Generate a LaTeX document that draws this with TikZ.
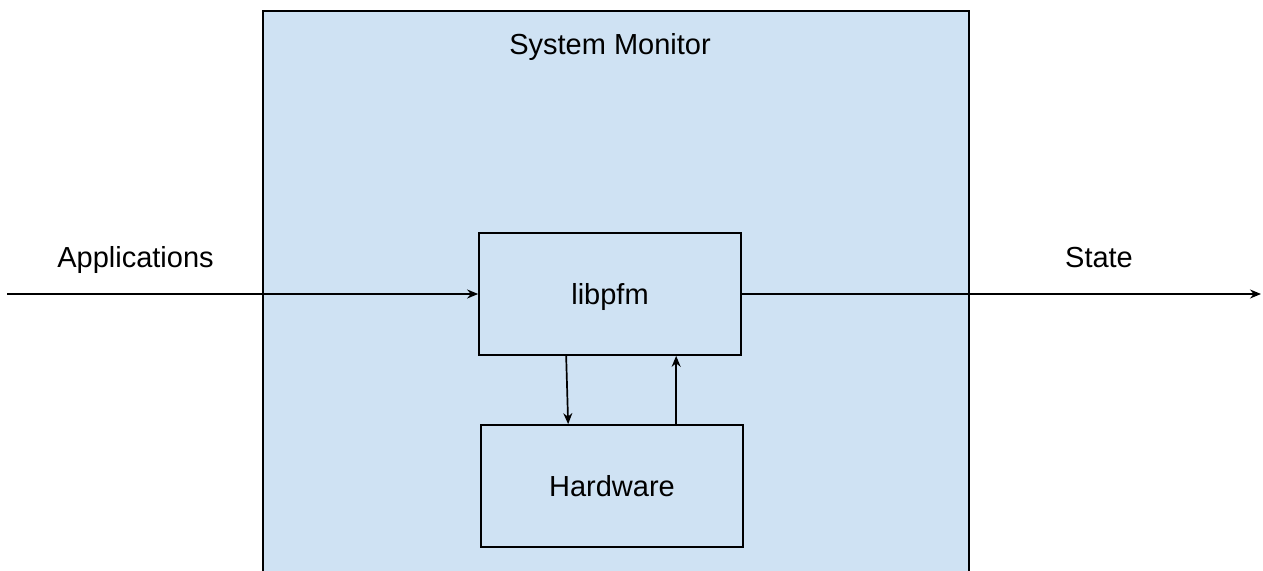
\documentclass[tikz,border=0pt]{standalone}
\usepackage{fontspec}
\setmainfont{Liberation Sans}
\usetikzlibrary{arrows.meta,positioning,calc}

\definecolor{monitorblue}{HTML}{CFE2F3}

\begin{document}
\begin{tikzpicture}[x=0.5pt,y=-0.5pt,>={Stealth[length=5.5pt,width=4.5pt]},
    line width=0.85pt,
    every node/.style={font=\fontsize{14.5}{17}\selectfont},
    block/.style={draw,fill=monitorblue,minimum width=131pt,minimum height=61pt,
      inner sep=0pt,text height=10.4pt,text depth=0pt}]
  \useasboundingbox (0,0) rectangle (1263,571);

  % container
  \fill[monitorblue] (263,11) rectangle (969,571);
  \draw (263,571) |- (969,11) -- (969,571);
  \node[anchor=base] (title) at (610,55) {System Monitor};

  \node[block] (lib) at (610,294) {libpfm};
  \node[block] (hw)  at (612,486) {Hardware};

  \coordinate (in)  at (7,294);
  \coordinate (out) at (1261,294);
  \node[anchor=base] (apps)  at (135.5,268) {Applications};
  \node[anchor=base] (state) at (1099,268) {State};

  \path[->] (in)  edge (lib.west);
  \path[->] (lib.east) edge (out);

  \draw[->] ($(lib.south west)+(88,0)$) -- ($(hw.north west)+(88,0)$);
  \coordinate (up) at ($(hw.north west)+(196,0)$);
  \draw[->] (up) -- (up |- lib.south);
\end{tikzpicture}
\end{document}
